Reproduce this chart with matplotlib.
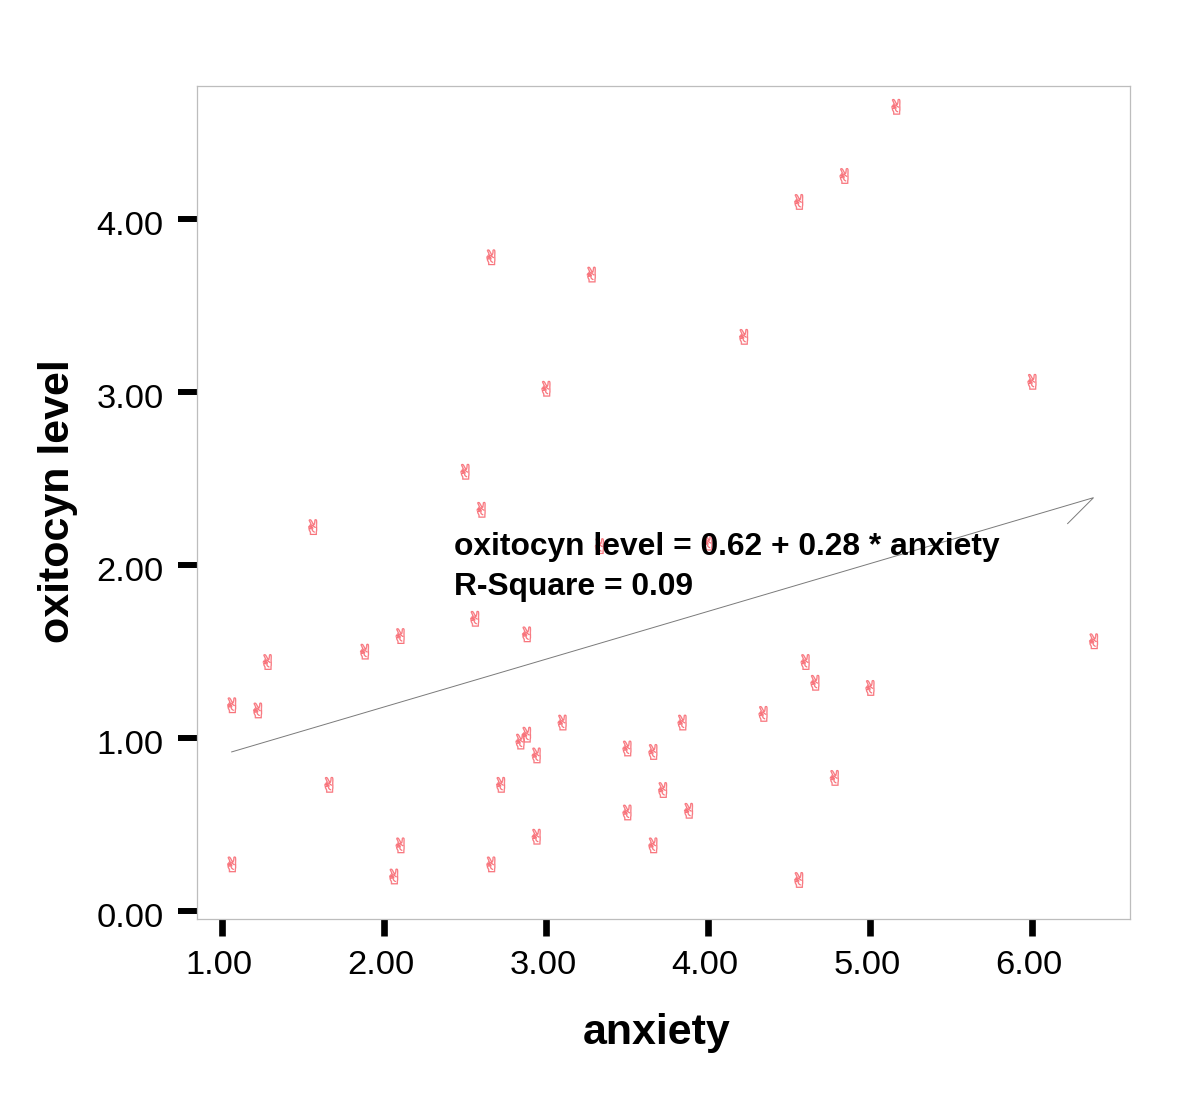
import matplotlib
matplotlib.use('Agg')
import matplotlib.pyplot as plt
from matplotlib.textpath import TextPath
from matplotlib.font_manager import FontProperties
from matplotlib.path import Path
from matplotlib.transforms import ScaledTranslation

anxiety = [5.16, 4.84, 4.56, 2.66, 3.28, 4.22, 6.00, 3.00, 2.50, 2.60, 1.56, 3.33, 4.00,
           2.56, 2.88, 2.10, 1.88, 1.28, 6.38, 4.60, 4.66, 5.00, 1.06, 1.22, 4.34, 3.10,
           3.84, 2.88, 2.84, 3.50, 3.66, 2.94, 4.78, 1.66, 2.72, 3.72, 3.88, 3.50, 2.94,
           3.66, 2.10, 1.06, 2.66, 2.06, 4.56]
oxitocyn = [4.65, 4.25, 4.10, 3.78, 3.68, 3.32, 3.06, 3.02, 2.54, 2.32, 2.22, 2.11, 2.13,
            1.69, 1.60, 1.59, 1.50, 1.44, 1.56, 1.44, 1.32, 1.29, 1.19, 1.16, 1.14, 1.09,
            1.09, 1.02, 0.98, 0.94, 0.92, 0.90, 0.77, 0.73, 0.73, 0.70, 0.58, 0.57, 0.43,
            0.38, 0.38, 0.27, 0.27, 0.20, 0.18]
fit_x = [1.06, 6.38, 6.22]
fit_y = [0.92, 2.39, 2.24]
x_ticks = [1, 2, 3, 4, 5, 6]
y_ticks = [0, 1, 2, 3, 4]
x_tick_labels = ['1.00', '2.00', '3.00', '4.00', '5.00', '6.00']
y_tick_labels = ['0.00', '1.00', '2.00', '3.00', '4.00']
equation = 'oxitocyn level = 0.62 + 0.28 * anxiety'
r_square = 'R-Square = 0.09'

W, H = 1200, 1096
plt.rcParams['font.family'] = ['Liberation Sans', 'DejaVu Sans']
fig = plt.figure(figsize=(W / 100, H / 100), dpi=100, facecolor='white')
L, R, T, B = 197, 1130, 86, 919
ax = fig.add_axes([L / W, 1 - B / H, (R - L) / W, (B - T) / H])
ax.set_xlim(0.846, 6.605)
ax.set_ylim(-0.046, 4.77)

tp = TextPath((0, 0), '\u270c', size=10, prop=FontProperties(family='DejaVu Sans'))
bb = tp.get_extents()
hand = Path((tp.vertices - [(bb.x0 + bb.x1) / 2, (bb.y0 + bb.y1) / 2]) * [1.2, 1.0], tp.codes)
ax.scatter(anxiety, oxitocyn, marker=hand, s=190, facecolors='none',
           edgecolors='#f8737b', linewidths=0.45, zorder=2)

ax.plot(fit_x, fit_y, color='#7a7a7a', lw=0.7, solid_joinstyle='miter', zorder=3)

ax.text(2.43, 2.06, equation, fontsize=22.9, fontweight='bold', color='black',
        va='baseline', ha='left', zorder=4)
ax.text(2.43, 1.825, r_square, fontsize=22.9, fontweight='bold', color='black',
        va='baseline', ha='left', zorder=4)

for s in ax.spines.values():
    s.set_color('#bdbdbd')
    s.set_linewidth(0.9)

ax.set_xticks(x_ticks, x_tick_labels)
ax.set_yticks(y_ticks, y_tick_labels)
ax.tick_params(axis='x', length=12.5, width=4.8, color='black', labelsize=24.8, pad=10)
ax.tick_params(axis='y', length=14, width=4.3, color='black', labelsize=24.8, pad=10)
for lab in ax.get_xticklabels():
    lab.set_transform(lab.get_transform() + ScaledTranslation(-3 / 100, 0, fig.dpi_scale_trans))
for lab in ax.get_yticklabels():
    lab.set_transform(lab.get_transform() + ScaledTranslation(0, -4 / 100, fig.dpi_scale_trans))

fig.text(657 / W, 1 - 1033 / H, 'anxiety', fontsize=31, fontweight='bold', ha='center', va='center')
fig.text(58 / W, 1 - 501 / H, 'oxitocyn level', fontsize=31, fontweight='bold', rotation=90,
         ha='center', va='center')

fig.savefig('out.png', dpi=100)
